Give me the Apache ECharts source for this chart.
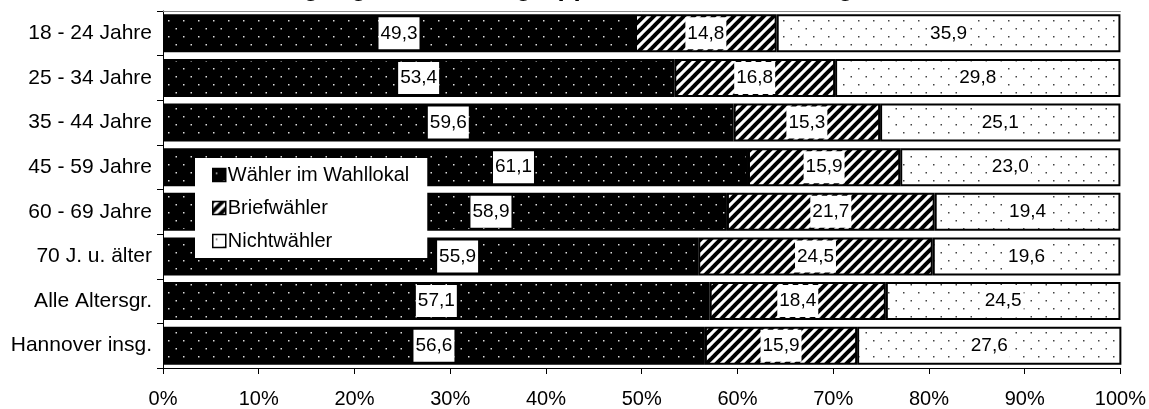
<!DOCTYPE html>
<html>
<head>
<meta charset="utf-8">
<script src="https://cdn.jsdelivr.net/npm/echarts@6/dist/echarts.min.js"></script>
<style>html,body{margin:0;padding:0;background:#fff;}#c{width:1149px;height:409px;}</style>
</head>
<body>
<div id="c"></div>
<script>
const titleText = 'Wahlbeteiligung nach Altersgruppen bei der Bundestagswahl';
const categories = ['18 - 24 Jahre','25 - 34 Jahre','35 - 44 Jahre','45 - 59 Jahre','60 - 69 Jahre','70 J. u. älter','Alle Altersgr.','Hannover insg.'];
const seriesNames = ['Wähler im Wahllokal','Briefwähler','Nichtwähler'];
const wahllokal = [49.3,53.4,59.6,61.1,58.9,55.9,57.1,56.6];
const briefwaehler = [14.8,16.8,15.3,15.9,21.7,24.5,18.4,15.9];
const nichtwaehler = [35.9,29.8,25.1,23.0,19.4,19.6,24.5,27.6];

function dotPattern(bg, dot) {
  const c = document.createElement('canvas');
  c.width = 15; c.height = 16;
  const g = c.getContext('2d');
  g.fillStyle = bg; g.fillRect(0,0,15,16);
  g.fillStyle = dot;
  g.fillRect(3,4,1.5,1.5);
  g.fillRect(10.5,12,1.5,1.5);
  return {image: c, repeat: 'repeat'};
}
function stripePattern() {
  const s = 10;
  const c = document.createElement('canvas');
  c.width = s; c.height = s;
  const g = c.getContext('2d');
  g.fillStyle = '#fff'; g.fillRect(0,0,s,s);
  g.strokeStyle = '#000'; g.lineWidth = 4;
  g.beginPath(); g.moveTo(-s, 2*s); g.lineTo(2*s, -s); g.stroke();
  g.beginPath(); g.moveTo(-s, s); g.lineTo(s, -s); g.stroke();
  g.beginPath(); g.moveTo(0, 2*s); g.lineTo(2*s, 0); g.stroke();
  return {image: c, repeat: 'repeat'};
}

const fmt = v => v.toFixed(1).replace('.', ',');
const FONT = 'Liberation Sans';

const labelCfg = {
  show: true,
  position: 'inside',
  color: '#000',
  fontFamily: FONT,
  fontSize: 19,
  backgroundColor: '#fff',
  padding: [7, 2, 6, 2],
  formatter: p => fmt(p.value)
};

// labels of the first series moved right (as in the original) to clear the legend
const firstLabelShift = [0, 0, 0, 58, 46, 27, 0, 0];

function mkSeries(name, data, color, shifts) {
  return {
    name: name,
    type: 'bar',
    stack: 'all',
    data: shifts ? data.map((v, i) => shifts[i] ? {value: v, label: {offset: [shifts[i], 0]}} : v) : data,
    barCategoryGap: '15%',
    itemStyle: {color: color, borderColor: '#000', borderWidth: 2},
    label: labelCfg,
    emphasis: {disabled: true},
    animation: false
  };
}

const chart = echarts.init(document.getElementById('c'), null, {renderer: 'canvas'});
chart.setOption({
  animation: false,
  backgroundColor: '#fff',
  title: {
    text: titleText,
    left: 167,
    top: -24,
    padding: 0,
    textStyle: {fontFamily: FONT, fontWeight: 'bold', fontSize: 26, color: '#000'}
  },
  grid: {left: 163, right: 27, top: 11, bottom: 41, containLabel: false},
  legend: {
    data: seriesNames,
    orient: 'vertical',
    left: 195,
    top: 158,
    z: 10,
    backgroundColor: '#fff',
    borderColor: '#000',
    borderWidth: 0,
    padding: [7, 18, 7, 17],
    icon: 'rect',
    itemWidth: 13,
    itemHeight: 13,
    itemGap: 13,
    selectedMode: false,
    itemStyle: {borderWidth: 1.5, borderColor: '#000'},
    textStyle: {fontFamily: FONT, fontSize: 20, color: '#000', padding: [0,0,0,-3]}
  },
  xAxis: [{
    type: 'value',
    min: 0, max: 100, interval: 10,
    axisLine: {show: true, lineStyle: {color: '#000', width: 1}},
    axisTick: {show: true, length: 6, lineStyle: {color: '#000'}},
    splitLine: {show: false},
    axisLabel: {formatter: '{value}%', fontFamily: FONT, fontSize: 20, color: '#000', margin: 21}
  }, {
    type: 'value', position: 'top', min: 0, max: 100,
    axisLine: {show: true, lineStyle: {color: '#888', width: 1}},
    axisTick: {show: false}, axisLabel: {show: false}, splitLine: {show: false}
  }],
  yAxis: {
    type: 'category',
    data: categories,
    inverse: true,
    axisLine: {show: true, lineStyle: {color: '#000'}},
    axisTick: {show: true, length: 6, lineStyle: {color: '#000'}},
    axisLabel: {fontFamily: FONT, fontSize: 21, color: '#000', margin: 11}
  },
  series: [
    mkSeries(seriesNames[0], wahllokal, dotPattern('#000', '#ddd'), firstLabelShift),
    mkSeries(seriesNames[1], briefwaehler, stripePattern()),
    mkSeries(seriesNames[2], nichtwaehler, dotPattern('#fff', '#444'))
  ]
});
</script>
</body>
</html>
